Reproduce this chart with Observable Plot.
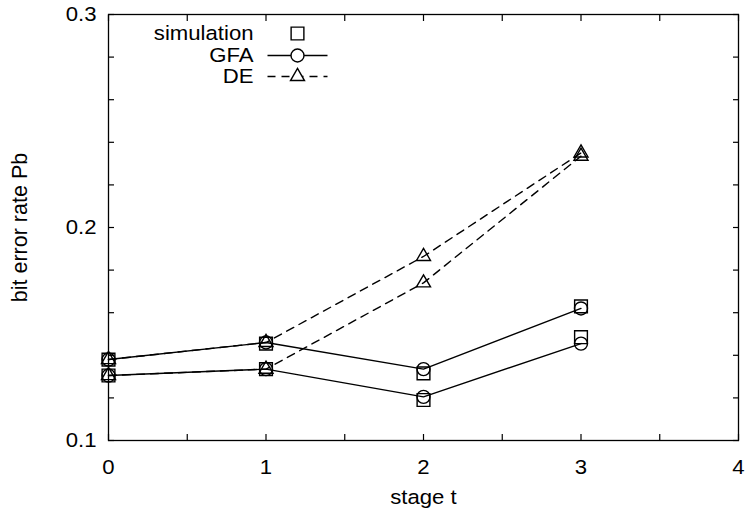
<!DOCTYPE html>
<html><head><meta charset="utf-8">
<script src="https://cdn.jsdelivr.net/npm/d3@7"></script>
<script src="https://cdn.jsdelivr.net/npm/@observablehq/plot@0.6"></script>
<style>html,body{margin:0;padding:0;background:#fff}</style>
</head><body><div id="chart"></div>
<script>
// ---- data ----
const stages = [0, 1, 2, 3];
const simUpper = [0.138, 0.1455, 0.1315, 0.163];
const simLower = [0.1305, 0.1335, 0.119, 0.1485];
const gfaUpper = [0.138, 0.146, 0.1335, 0.162];
const gfaLower = [0.1305, 0.1335, 0.1205, 0.1455];
const deUpper = [0.138, 0.146, 0.1864, 0.235];
const deLower = [0.1305, 0.1335, 0.174, 0.2335];
const xTickLabels = [0, 1, 2, 3, 4];
const xTicks = [0, 0.5, 1, 1.5, 2, 2.5, 3, 3.5, 4];
const yTickLabels = [0.1, 0.2, 0.3];
const yTicks = [0.1, 0.12, 0.14, 0.16, 0.18, 0.2, 0.22, 0.24, 0.26, 0.28, 0.3];
const legendLabels = ["simulation", "GFA", "DE"];
const xTitle = "stage t";
const yTitle = "bit error rate Pb";

const toRows = (vals, group) => stages.map((s, i) => ({stage: s, value: vals[i], group}));
const simRows = [...toRows(simUpper, "u"), ...toRows(simLower, "l")];
const gfaRows = [...toRows(gfaUpper, "u"), ...toRows(gfaLower, "l")];
const deRows = [...toRows(deUpper, "u"), ...toRows(deLower, "l")];

const FONT = "Liberation Sans, Arial, sans-serif";
const FS = 20.5;
const lineSym = {draw(ctx) { ctx.moveTo(-30, 0); ctx.lineTo(30, 0); }};

const chart = Plot.plot({
  width: 748, height: 516,
  marginLeft: 108, marginRight: 10, marginTop: 14, marginBottom: 76,
  style: {fontFamily: FONT, fontSize: FS + "px", background: "#fff", color: "#000"},
  x: {domain: [0, 4]},
  y: {domain: [0.1, 0.3]},
  marks: [
    Plot.axisX(xTicks, {anchor: "bottom", tickSize: -6, tickFormat: () => "", label: null, strokeWidth: 1.2}),
    Plot.axisX(xTicks, {anchor: "top", tickSize: -6, tickFormat: () => "", label: null, strokeWidth: 1.2}),
    Plot.axisY(yTicks, {anchor: "left", tickSize: -6, tickFormat: () => "", label: null, strokeWidth: 1.2}),
    Plot.axisY(yTicks, {anchor: "right", tickSize: -6, tickFormat: () => "", label: null, strokeWidth: 1.2}),
    Plot.axisX(xTickLabels, {anchor: "bottom", tickSize: 0, tickPadding: 19, tickFormat: d => String(d), label: null, fontSize: FS}),
    Plot.axisY(yTickLabels, {anchor: "left", tickSize: 0, tickPadding: 12, tickFormat: d => d.toFixed(1), label: null, fontSize: FS}),
    Plot.frame({stroke: "black", strokeWidth: 1.3}),
    Plot.line(gfaRows, {x: "stage", y: "value", z: "group", stroke: "black", strokeWidth: 1.4}),
    Plot.line(deRows, {x: "stage", y: "value", z: "group", stroke: "black", strokeWidth: 1.4, strokeDasharray: "8,6"}),
    Plot.dot(simRows, {x: "stage", y: "value", symbol: "square", r: 7.2, stroke: "black", fill: "none", strokeWidth: 1.4}),
    Plot.dot(gfaRows, {x: "stage", y: "value", symbol: "circle", r: 6.5, stroke: "black", fill: "none", strokeWidth: 1.4}),
    Plot.dot(deRows, {x: "stage", y: "value", symbol: "triangle", r: 5.2, stroke: "black", fill: "none", strokeWidth: 1.4}),
    // axis titles
    Plot.text([xTitle], {text: d => d, frameAnchor: "bottom", lineAnchor: "middle", textAnchor: "middle", dy: 57, fontSize: FS}),
    Plot.text([yTitle], {text: d => d, frameAnchor: "left", lineAnchor: "middle", textAnchor: "middle", dx: -88, rotate: -90, fontSize: 21.5, className: "ytitle"}),
    // legend
    Plot.text([legendLabels[0]], {text: d => d, frameAnchor: "top-left", lineAnchor: "middle", dx: 145, dy: 19, textAnchor: "end", fontSize: FS}),
    Plot.text([legendLabels[1]], {text: d => d, frameAnchor: "top-left", lineAnchor: "middle", dx: 145, dy: 41, textAnchor: "end", fontSize: FS}),
    Plot.text([legendLabels[2]], {text: d => d, frameAnchor: "top-left", lineAnchor: "middle", dx: 145, dy: 62, textAnchor: "end", fontSize: FS}),
    Plot.dot([legendLabels[0]], {frameAnchor: "top-left", dx: 189, dy: 19, symbol: "square", r: 7.2, stroke: "black", fill: "none", strokeWidth: 1.4}),
    Plot.dot([legendLabels[1]], {frameAnchor: "top-left", dx: 189, dy: 41, symbol: lineSym, stroke: "black", strokeWidth: 1.4}),
    Plot.dot([legendLabels[1]], {frameAnchor: "top-left", dx: 189, dy: 41, symbol: "circle", r: 6.5, stroke: "black", fill: "white", strokeWidth: 1.4}),
    Plot.dot([legendLabels[2]], {frameAnchor: "top-left", dx: 189, dy: 62, symbol: lineSym, stroke: "black", strokeWidth: 1.4, strokeDasharray: "8,6"}),
    Plot.dot([legendLabels[2]], {frameAnchor: "top-left", dx: 189, dy: 62, symbol: "triangle", r: 5.2, stroke: "black", fill: "white", strokeWidth: 1.4})
  ]
});
document.getElementById("chart").appendChild(chart);

// gnuplot-style slightly wide lettering (horizontal texts only)
const SX = 1.08;
chart.querySelectorAll("text").forEach(t => {
  if (!t.textContent || t.closest(".ytitle")) return;
  const len = t.getComputedTextLength();
  if (len > 0) {
    t.setAttribute("textLength", (len * SX).toFixed(2));
    t.setAttribute("lengthAdjust", "spacingAndGlyphs");
  }
});
</script>
</body></html>
